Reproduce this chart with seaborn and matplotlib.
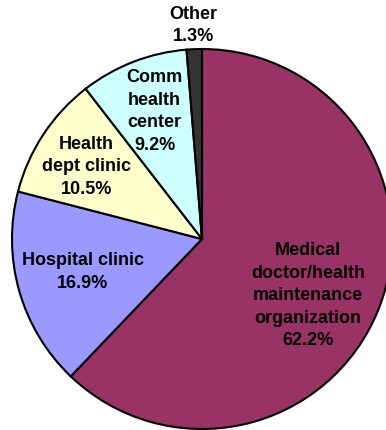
import numpy as np
import matplotlib
matplotlib.use("Agg")
import matplotlib.pyplot as plt
import seaborn as sns

# Source of usual care, share of respondents (%)
categories = ["Medical\ndoctor/health\nmaintenance\norganization",
              "Hospital clinic", "Health\ndept clinic", "Comm\nhealth\ncenter", "Other"]
shares = [62.2, 16.9, 10.5, 9.2, 1.3]
colors = ["#993366", "#9999FF", "#FFFFCC", "#CCFFFF", "#333333"]
# label placement: fraction of the radius, and angular nudge from the wedge middle
label_radius = [0.63, 0.65, 0.72, 0.72, 1.13]
label_nudge = [-6, -1, 1, -1, 0]

sns.set_theme(style="white")
plt.rcParams["font.family"] = ["Liberation Sans", "DejaVu Sans"]

W, H = 386, 431
fig = plt.figure(figsize=(W / 100, H / 100), dpi=100)
# pie centre (pixels from top-left) and radius
cx, cy, R = 202, 240, 190
ax = fig.add_axes([(cx - R) / W, (H - cy - R) / H, 2 * R / W, 2 * R / H])
ax.set_axis_off()

wedges, _ = ax.pie(shares, colors=colors, startangle=90, counterclock=False,
                   radius=1.0, center=(0, 0), frame=False,
                   wedgeprops=dict(edgecolor="black", linewidth=1.5))
ax.set_xlim(-1, 1)
ax.set_ylim(-1, 1)
ax.set_aspect("auto")
for w in wedges:
    w.set_clip_on(False)

for w, name, val, r, dn in zip(wedges, categories, shares, label_radius, label_nudge):
    mid = np.deg2rad((w.theta1 + w.theta2) / 2 + dn)
    ax.text(r * np.cos(mid), r * np.sin(mid), f"{name}\n{val:.1f}%",
            ha="center", va="center", fontsize=13, fontweight="bold",
            color="black", linespacing=1.42, clip_on=False)

fig.savefig("out.png", dpi=100)
